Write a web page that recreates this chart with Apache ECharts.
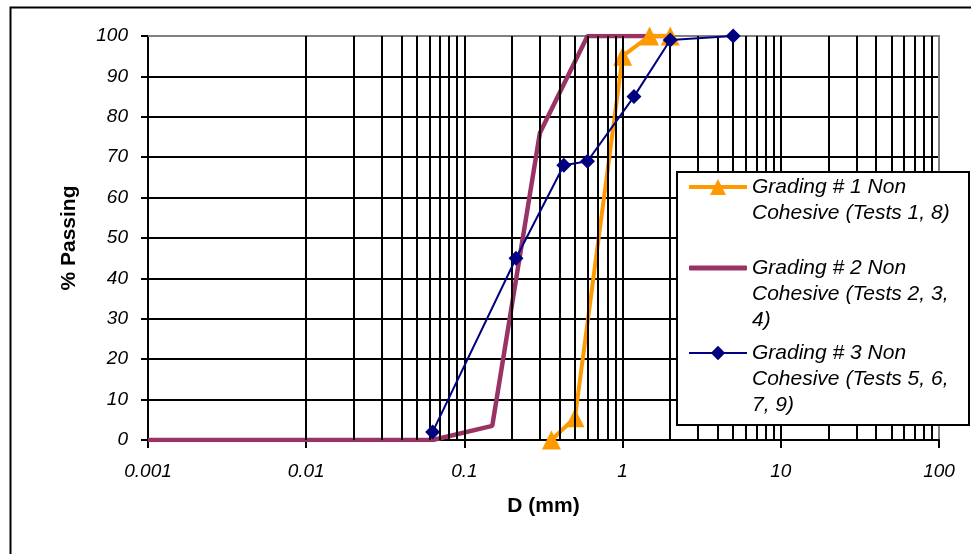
<!DOCTYPE html>
<html>
<head>
<meta charset="utf-8">
<script src="https://cdn.jsdelivr.net/npm/echarts@6/dist/echarts.min.js"></script>
<style>html,body{margin:0;padding:0;background:#fff}#c{width:971px;height:554px}</style>
</head>
<body>
<div id="c"></div>
<script>
// ---- data ----
var seriesNames = [
  'Grading # 1 Non Cohesive (Tests 1, 8)',
  'Grading # 2 Non Cohesive (Tests 2, 3, 4)',
  'Grading # 3 Non Cohesive (Tests 5, 6, 7, 9)'
];
var legendLines = [
  ['Grading # 1 Non', 'Cohesive (Tests 1, 8)'],
  ['Grading # 2 Non', 'Cohesive (Tests 2, 3,', '4)'],
  ['Grading # 3 Non', 'Cohesive (Tests 5, 6,', '7, 9)']
];
var grading1 = [[0.355, 0], [0.5, 5.5], [1.0, 95], [1.48, 100], [2.0, 100]];
var grading2 = [[0.001, 0], [0.063, 0], [0.15, 3.5], [0.3, 76], [0.6, 100], [2.0, 100]];
var grading3 = [[0.063, 2], [0.212, 45], [0.425, 68], [0.6, 69], [1.18, 85], [2.0, 99], [5.0, 100]];
var xTickLabels = ['0.001', '0.01', '0.1', '1', '10', '100'];
var yTickLabels = ['0', '10', '20', '30', '40', '50', '60', '70', '80', '90', '100'];
var decades = [0.001, 0.01, 0.1, 1, 10];
var multipliers = [1, 2, 3, 4, 5, 6, 7, 8, 9];

var gridX = [];
decades.forEach(function (d) {
  multipliers.forEach(function (m) {
    var v = +(d * m).toPrecision(3);
    if (v > 0.001 && v < 100) gridX.push(v);
  });
});

var FONT = "'Liberation Sans', Arial, sans-serif";
var COLORS = ['#FF9900', '#993366', '#000080'];

function legendText(lines) {
  // blank lines above so that the icon aligns with the first text line
  var pad = [];
  for (var i = 0; i < lines.length - 1; i++) pad.push('');
  return pad.concat(lines).join('\n');
}

var chart = echarts.init(document.getElementById('c'), null, {renderer: 'canvas'});
var legendTops = [148, 203, 288];
var legendLefts = [687, 689, 688];
var legendItems = [
  {name: seriesNames[0], lineStyle: {width: 4}, itemStyle: {color: COLORS[0]}},
  {name: seriesNames[1], icon: 'roundRect', itemStyle: {color: COLORS[1]}},
  {name: seriesNames[2], lineStyle: {width: 2}, itemStyle: {color: COLORS[2]}}
];
var legendHeights = [20, 5, 18];
var legends = seriesNames.map(function (n, i) {
  return {
    data: [legendItems[i]],
    left: legendLefts[i],
    top: legendTops[i],
    padding: 0,
    itemWidth: 58,
    itemHeight: legendHeights[i],
    itemGap: 0,
    z: 10,
    selectedMode: false,
    formatter: function () { return legendText(legendLines[i]); },
    textStyle: {
      fontFamily: FONT, fontStyle: 'italic', fontSize: 21, color: '#000', lineHeight: 26
    }
  };
});

var option = {
  animation: false,
  backgroundColor: '#fff',
  grid: {left: 148, top: 36, right: 32, bottom: 114, containLabel: false},
  legend: legends,
  graphic: [
    {type: 'rect', left: 8, top: 5, shape: {x: 0, y: 0, width: 1000, height: 600},
      style: {fill: 'none', stroke: '#000', lineWidth: 2}, z: 0, silent: true},
    {type: 'rect', shape: {x: 677, y: 172, width: 292, height: 253},
      style: {fill: '#fff', stroke: '#000', lineWidth: 2}, z: 8, silent: true}
  ],
  xAxis: [
    {
      type: 'log', logBase: 10, min: 0.001, max: 100, interval: 1,
      position: 'bottom',
      name: 'D (mm)', nameLocation: 'middle', nameGap: 56,
      nameTextStyle: {fontFamily: FONT, fontWeight: 'bold', fontSize: 21, color: '#000'},
      axisLine: {show: true, onZero: false, lineStyle: {color: '#000', width: 2}},
      axisTick: {show: true, inside: false, length: 8, lineStyle: {color: '#000', width: 2}},
      axisLabel: {
        margin: 22, fontFamily: FONT, fontStyle: 'italic', fontSize: 19, color: '#000',
        formatter: function (v, i) { return xTickLabels[i] !== undefined ? xTickLabels[i] : ''; }
      },
      splitLine: {show: false},
      minorTick: {show: false}
    },
    {
      type: 'log', logBase: 10, min: 0.001, max: 100, position: 'top',
      axisLine: {show: true, onZero: false, lineStyle: {color: '#808080', width: 2}},
      axisTick: {show: false}, axisLabel: {show: false}, splitLine: {show: false}
    }
  ],
  yAxis: [
    {
      type: 'value', min: 0, max: 100, interval: 10,
      name: '% Passing', nameLocation: 'middle', nameGap: 68, nameRotate: 90,
      nameTextStyle: {fontFamily: FONT, fontWeight: 'bold', fontSize: 21, color: '#000'},
      axisLine: {show: true, onZero: false, lineStyle: {color: '#000', width: 2}},
      axisTick: {show: true, inside: false, length: 7, lineStyle: {color: '#000', width: 2}},
      axisLabel: {
        margin: 20, fontFamily: FONT, fontStyle: 'italic', fontSize: 19, color: '#000',
        formatter: function (v, i) { return yTickLabels[i] !== undefined ? yTickLabels[i] : ''; }
      },
      splitLine: {show: true, showMinLine: false, showMaxLine: false, lineStyle: {color: '#000', width: 2}}
    },
    {
      type: 'value', min: 0, max: 100, position: 'right',
      axisLine: {show: true, onZero: false, lineStyle: {color: '#808080', width: 2}},
      axisTick: {show: false}, axisLabel: {show: false}, splitLine: {show: false}
    }
  ],
  series: [
    {
      name: seriesNames[0], type: 'line', data: grading1, z: 4,
      symbol: 'triangle', symbolSize: 19, showSymbol: true,
      itemStyle: {color: COLORS[0]},
      lineStyle: {color: COLORS[0], width: 4}
    },
    {
      name: seriesNames[1], type: 'line', data: grading2, z: 3,
      symbol: 'none', showSymbol: false,
      itemStyle: {color: COLORS[1]},
      lineStyle: {color: COLORS[1], width: 4.5}
    },
    {
      name: seriesNames[2], type: 'line', data: grading3, z: 5,
      symbol: 'diamond', symbolSize: 15, showSymbol: true,
      itemStyle: {color: COLORS[2]},
      lineStyle: {color: COLORS[2], width: 2}
    },
    {
      name: 'grid', type: 'line', data: [], z: 1, silent: true,
      markLine: {
        silent: true, symbol: 'none', animation: false,
        label: {show: false},
        lineStyle: {color: '#000', width: 2, type: 'solid'},
        emphasis: {disabled: true},
        data: gridX.map(function (v) { return {xAxis: v}; })
      }
    }
  ]
};
chart.setOption(option);
</script>
</body>
</html>
